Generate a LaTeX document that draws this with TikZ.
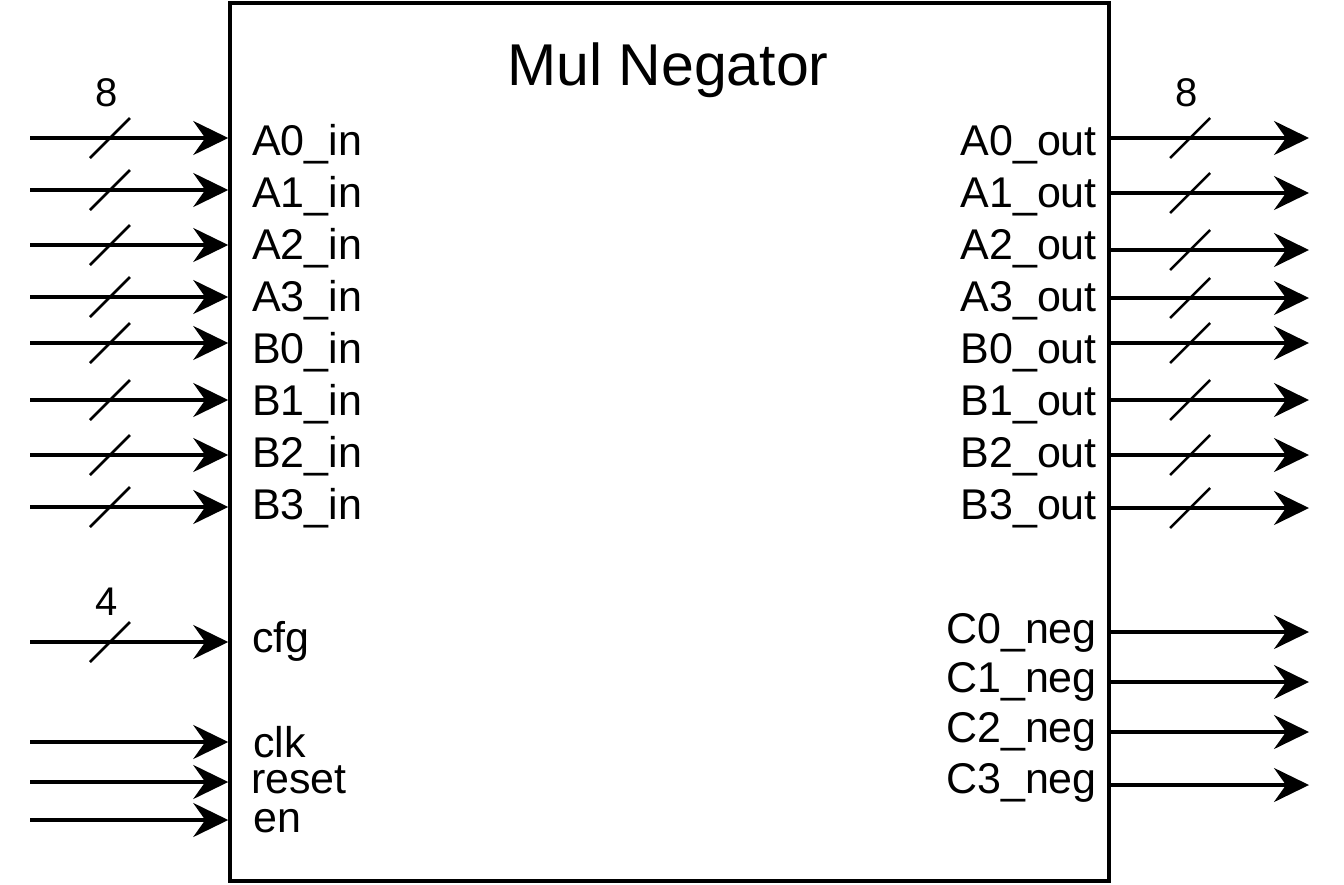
\documentclass[tikz,border=0pt]{standalone}
\usepackage{fontspec}
\setmainfont{Liberation Sans}
\usepackage{tikz}
\usetikzlibrary{arrows.meta}

\begin{document}
\begin{tikzpicture}[x=1pt, y=-1pt,
    block/.style={rectangle, draw=black, line width=3.5pt,
                  minimum width=879pt, minimum height=878pt, inner sep=0pt},
    pin/.style={-{Stealth[length=35pt, width=34pt, inset=12pt]}, line width=3.5pt},
    busmark/.style={line width=2.5pt},
    portin/.style={anchor=base west, inner sep=0pt, font=\fontsize{43}{50}\selectfont},
    portout/.style={anchor=base east, inner sep=0pt, font=\fontsize{43}{50}\selectfont},
    buswidth/.style={anchor=base, inner sep=0pt, font=\fontsize{40}{48}\selectfont},
    heading/.style={anchor=base, inner sep=0pt, font=\fontsize{59}{70}\selectfont}
]
    \useasboundingbox (0,0) rectangle (1344,884);

    % Block
    \node[block] (box) at (669.5, 442) {};
    \node[heading] (title) at (668, 85) {Mul Negator};

    % Input ports
    \node[portin] (la0) at (252, 155) {A0\_in};
    \node[portin] (la1) at (252, 207) {A1\_in};
    \node[portin] (la2) at (252, 259) {A2\_in};
    \node[portin] (la3) at (252, 311) {A3\_in};
    \node[portin] (lb0) at (252, 363) {B0\_in};
    \node[portin] (lb1) at (252, 415) {B1\_in};
    \node[portin] (lb2) at (252, 467) {B2\_in};
    \node[portin] (lb3) at (252, 519) {B3\_in};
    \node[portin] (lcfg) at (252, 652) {cfg};
    \node[portin] (lclk) at (253, 757) {clk};
    \node[portin] (lrst) at (251, 793) {reset};
    \node[portin] (len) at (253, 832) {en};

    % Output ports
    \node[portout] (ra0) at (1097, 155) {A0\_out};
    \node[portout] (ra1) at (1097, 207) {A1\_out};
    \node[portout] (ra2) at (1097, 259) {A2\_out};
    \node[portout] (ra3) at (1097, 311) {A3\_out};
    \node[portout] (rb0) at (1097, 363) {B0\_out};
    \node[portout] (rb1) at (1097, 415) {B1\_out};
    \node[portout] (rb2) at (1097, 467) {B2\_out};
    \node[portout] (rb3) at (1097, 519) {B3\_out};
    \node[portout] (rc0) at (1097, 643) {C0\_neg};
    \node[portout] (rc1) at (1097, 692) {C1\_neg};
    \node[portout] (rc2) at (1097, 742) {C2\_neg};
    \node[portout] (rc3) at (1097, 793) {C3\_neg};

    % Wire ends
    \coordinate (ia0) at (30, 138);
    \coordinate (ia1) at (30, 190);
    \coordinate (ia2) at (30, 245);
    \coordinate (ia3) at (30, 297);
    \coordinate (ib0) at (30, 343);
    \coordinate (ib1) at (30, 400);
    \coordinate (ib2) at (30, 455);
    \coordinate (ib3) at (30, 507);
    \coordinate (icfg) at (30, 642);
    \coordinate (iclk) at (30, 742);
    \coordinate (irst) at (30, 782);
    \coordinate (ien) at (30, 820);

    \coordinate (oa0) at (1309, 138);
    \coordinate (oa1) at (1309, 193);
    \coordinate (oa2) at (1309, 250);
    \coordinate (oa3) at (1309, 298);
    \coordinate (ob0) at (1309, 343);
    \coordinate (ob1) at (1309, 400);
    \coordinate (ob2) at (1309, 455);
    \coordinate (ob3) at (1309, 508);
    \coordinate (oc0) at (1309, 632);
    \coordinate (oc1) at (1309, 682);
    \coordinate (oc2) at (1309, 732);
    \coordinate (oc3) at (1309, 785);

    % Arrows: inputs
    \draw[pin] (ia0) -- (ia0 -| box.west);
    \draw[pin] (ia1) -- (ia1 -| box.west);
    \draw[pin] (ia2) -- (ia2 -| box.west);
    \draw[pin] (ia3) -- (ia3 -| box.west);
    \draw[pin] (ib0) -- (ib0 -| box.west);
    \draw[pin] (ib1) -- (ib1 -| box.west);
    \draw[pin] (ib2) -- (ib2 -| box.west);
    \draw[pin] (ib3) -- (ib3 -| box.west);
    \draw[pin] (icfg) -- (icfg -| box.west);
    \draw[pin] (iclk) -- (iclk -| box.west);
    \draw[pin] (irst) -- (irst -| box.west);
    \draw[pin] (ien) -- (ien -| box.west);

    % Arrows: outputs
    \draw[pin] (oa0 -| box.east) -- (oa0);
    \draw[pin] (oa1 -| box.east) -- (oa1);
    \draw[pin] (oa2 -| box.east) -- (oa2);
    \draw[pin] (oa3 -| box.east) -- (oa3);
    \draw[pin] (ob0 -| box.east) -- (ob0);
    \draw[pin] (ob1 -| box.east) -- (ob1);
    \draw[pin] (ob2 -| box.east) -- (ob2);
    \draw[pin] (ob3 -| box.east) -- (ob3);
    \draw[pin] (oc0 -| box.east) -- (oc0);
    \draw[pin] (oc1 -| box.east) -- (oc1);
    \draw[pin] (oc2 -| box.east) -- (oc2);
    \draw[pin] (oc3 -| box.east) -- (oc3);

    % Bus slashes
    \draw[busmark] ([shift={(60,20)}]ia0) -- ++(40,-40);
    \draw[busmark] ([shift={(60,20)}]ia1) -- ++(40,-40);
    \draw[busmark] ([shift={(60,20)}]ia2) -- ++(40,-40);
    \draw[busmark] ([shift={(60,20)}]ia3) -- ++(40,-40);
    \draw[busmark] ([shift={(60,20)}]ib0) -- ++(40,-40);
    \draw[busmark] ([shift={(60,20)}]ib1) -- ++(40,-40);
    \draw[busmark] ([shift={(60,20)}]ib2) -- ++(40,-40);
    \draw[busmark] ([shift={(60,20)}]ib3) -- ++(40,-40);
    \draw[busmark] ([shift={(60,20)}]icfg) -- ++(40,-40);

    \draw[busmark] ([shift={(-139,20)}]oa0) -- ++(40,-40);
    \draw[busmark] ([shift={(-139,20)}]oa1) -- ++(40,-40);
    \draw[busmark] ([shift={(-139,20)}]oa2) -- ++(40,-40);
    \draw[busmark] ([shift={(-139,20)}]oa3) -- ++(40,-40);
    \draw[busmark] ([shift={(-139,20)}]ob0) -- ++(40,-40);
    \draw[busmark] ([shift={(-139,20)}]ob1) -- ++(40,-40);
    \draw[busmark] ([shift={(-139,20)}]ob2) -- ++(40,-40);
    \draw[busmark] ([shift={(-139,20)}]ob3) -- ++(40,-40);

    % Bus widths
    \node[buswidth] (w8in) at (107, 106) {8};
    \node[buswidth] (w8out) at (1187, 106) {8};
    \node[buswidth] (w4) at (107, 615) {4};
\end{tikzpicture}
\end{document}
